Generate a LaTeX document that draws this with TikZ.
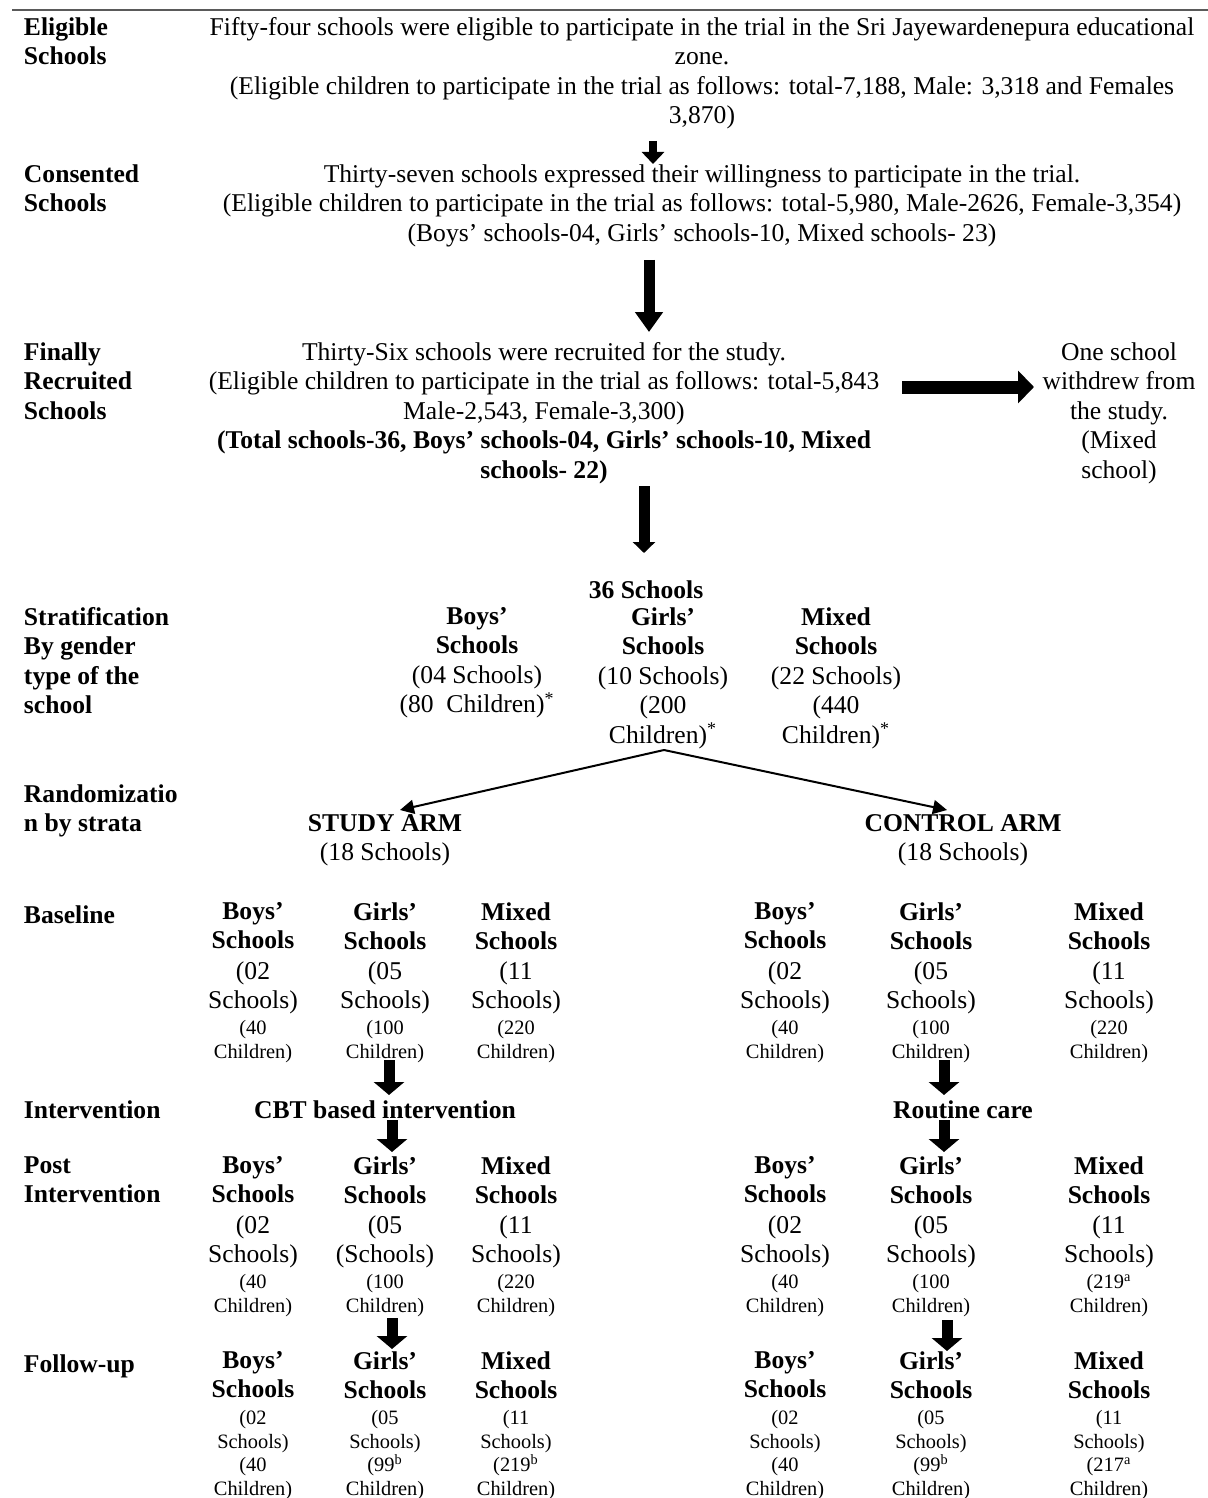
\documentclass[tikz,border=0pt]{standalone}
\usepackage{fontspec}
\setmainfont{Liberation Serif}
\usetikzlibrary{arrows.meta}
\setlength{\lineskiplimit}{-20pt}
\definecolor{rulecol}{RGB}{90,90,90}
\tikzset{
  every node/.style={inner sep=0pt, outer sep=0pt},
  txt/.style={font=\fontsize{12.8}{14.75}\selectfont, align=center, anchor=north, yshift=7.325pt, execute at begin node=\strut},
  bhd/.style={txt, font=\fontsize{12.8}{14.75}\selectfont\bfseries},
  lbl/.style={txt, align=left, anchor=north west, font=\fontsize{12.8}{14.75}\selectfont\bfseries},
  sml/.style={font=\fontsize{10.2}{11.8}\selectfont, align=center, anchor=north, yshift=5.76pt, execute at begin node=\strut},
  blk/.style n args={3}{line width=#1, -{Triangle[width=#2,length=#3]}},
  thin/.style={line width=1pt, -{Triangle[width=7pt,length=7pt]}}
}
\newcommand\armcol[6]{%
  \node[bhd] (#1h) at (#2,#3) {#4};
  \node[txt] (#1m) at (#2,#3+59) {#5};
  \node[sml] (#1s) at (#2,#3+115) {#6};}
\newcommand\folcol[5]{%
  \node[bhd] (#1h) at (#2,#3) {#4};
  \node[sml] (#1s) at (#2,#3+56) {#5};}
\begin{document}
\begin{tikzpicture}[x=0.5pt,y=-0.5pt]
\useasboundingbox (0,0) rectangle (1208,1498);
\fill[white] (0,0) rectangle (1208,1498);
\draw[rulecol, line width=1pt] (12,10) -- (1208,10);

% left labels
\node[lbl] (lEli) at (24,32) {Eligible\\Schools};
\node[lbl] (lCon) at (24,179) {Consented\\Schools};
\node[lbl] (lFin) at (24,357) {Finally\\Recruited\\Schools};
\node[lbl] (lStr) at (24,622) {Stratification\\By gender\\type of the\\school};
\node[lbl] (lRan) at (24,799) {Randomizatio\\n by strata};
\node[lbl] (lBas) at (24,917) {Baseline};
\node[lbl] (lInt) at (24,1112) {Intervention};
\node[lbl] (lPost) at (24,1171) {Post\\Intervention};
\node[lbl] (lFol) at (24,1366) {Follow-up};

% main blocks
\node[txt] (tEli) at (702,32) {Fifty-four schools were eligible to participate in the trial in the Sri Jayewardenepura educational\\zone.\\(Eligible children to participate in the trial as follows: total-7,188, Male: 3,318 and Females\\3,870)};
\node[txt] (tCon) at (702,179) {Thirty-seven schools expressed their willingness to participate in the trial.\\(Eligible children to participate in the trial as follows: total-5,980, Male-2626, Female-3,354)\\(Boys’ schools-04, Girls’ schools-10, Mixed schools- 23)};
\node[txt] (tFin) at (544,357) {Thirty-Six schools were recruited for the study.\\(Eligible children to participate in the trial as follows: total-5,843\\Male-2,543, Female-3,300)\\\textbf{(Total schools-36, Boys’ schools-04, Girls’ schools-10, Mixed}\\\textbf{schools- 22)}};
\node[txt] (tWd) at (1119,357) {One school\\withdrew from\\the study.\\(Mixed\\school)};

% stratification
\node[bhd] (t36) at (646,592) {36 Schools};
\node[txt] (sBoys) at (477,622) {\textbf{Boys’}\\\textbf{Schools}\\(04 Schools)\\(80\ \ Children)\textsuperscript{*}};
\node[txt] (sGirls) at (663,622) {\textbf{Girls’}\\\textbf{Schools}\\(10 Schools)\\(200\\Children)\textsuperscript{*}};
\node[txt] (sMixed) at (836,622) {\textbf{Mixed}\\\textbf{Schools}\\(22 Schools)\\(440\\Children)\textsuperscript{*}};

% arms
\node[txt] (study) at (385,829) {\textbf{STUDY ARM}\\(18 Schools)};
\node[txt] (control) at (963,829) {\textbf{CONTROL ARM}\\(18 Schools)};

% baseline
\armcol{bSB}{253}{917}{Boys’\\Schools}{(02\\Schools)}{(40\\Children)}
\armcol{bSG}{385}{917}{Girls’\\Schools}{(05\\Schools)}{(100\\Children)}
\armcol{bSM}{516}{917}{Mixed\\Schools}{(11\\Schools)}{(220\\Children)}
\armcol{bCB}{785}{917}{Boys’\\Schools}{(02\\Schools)}{(40\\Children)}
\armcol{bCG}{931}{917}{Girls’\\Schools}{(05\\Schools)}{(100\\Children)}
\armcol{bCM}{1109}{917}{Mixed\\Schools}{(11\\Schools)}{(220\\Children)}

% intervention
\node[bhd] (cbt) at (385,1112) {CBT based intervention};
\node[bhd] (routine) at (963,1112) {Routine care};

% post intervention
\armcol{pSB}{253}{1171}{Boys’\\Schools}{(02\\Schools)}{(40\\Children)}
\armcol{pSG}{385}{1171}{Girls’\\Schools}{(05\\(Schools)}{(100\\Children)}
\armcol{pSM}{516}{1171}{Mixed\\Schools}{(11\\Schools)}{(220\\Children)}
\armcol{pCB}{785}{1171}{Boys’\\Schools}{(02\\Schools)}{(40\\Children)}
\armcol{pCG}{931}{1171}{Girls’\\Schools}{(05\\Schools)}{(100\\Children)}
\armcol{pCM}{1109}{1171}{Mixed\\Schools}{(11\\Schools)}{(219\textsuperscript{a}\\Children)}

% follow-up
\folcol{fSB}{253}{1366}{Boys’\\Schools}{(02\\Schools)\\(40\\Children)}
\folcol{fSG}{385}{1366}{Girls’\\Schools}{(05\\Schools)\\(99\textsuperscript{b}\\Children)}
\folcol{fSM}{516}{1366}{Mixed\\Schools}{(11\\Schools)\\(219\textsuperscript{b}\\Children)}
\folcol{fCB}{785}{1366}{Boys’\\Schools}{(02\\Schools)\\(40\\Children)}
\folcol{fCG}{931}{1366}{Girls’\\Schools}{(05\\Schools)\\(99\textsuperscript{b}\\Children)}
\folcol{fCM}{1109}{1366}{Mixed\\Schools}{(11\\Schools)\\(217\textsuperscript{a}\\Children)}

% arrow end points
\coordinate (a1s) at (653,141); \coordinate (a1e) at (653,164);
\coordinate (a2s) at (649,260); \coordinate (a2e) at (649,332);
\coordinate (a3s) at (902,387); \coordinate (a3e) at (1034,387);
\coordinate (a4s) at (644,486); \coordinate (a4e) at (644,553);
\coordinate (split) at (664,750);
\coordinate (rS) at (400,810); \coordinate (rC) at (947,810);
\coordinate (s1s) at (389,1060); \coordinate (s1e) at (389,1095);
\coordinate (s2s) at (392,1120); \coordinate (s2e) at (392,1152);
\coordinate (s3s) at (392,1318); \coordinate (s3e) at (392,1349);
\coordinate (c1s) at (944,1060); \coordinate (c1e) at (944,1095);
\coordinate (c2s) at (944,1120); \coordinate (c2e) at (944,1152);
\coordinate (c3s) at (947,1320); \coordinate (c3e) at (947,1351);

\draw[blk={4pt}{11pt}{6pt}] (a1s) -- (a1e);
\draw[blk={5.5pt}{13.5pt}{10pt}] (a2s) -- (a2e);
\draw[blk={6.5pt}{16pt}{8pt}] (a3s) -- (a3e);
\draw[blk={5.5pt}{11pt}{5.5pt}] (a4s) -- (a4e);
\draw[thin] (split) -- (rS);
\draw[thin] (split) -- (rC);
\foreach \a in {s1,s2,s3,c1,c2,c3}
  \draw[blk={5.5pt}{15pt}{6.5pt}] (\a s) -- (\a e);
\end{tikzpicture}
\end{document}
